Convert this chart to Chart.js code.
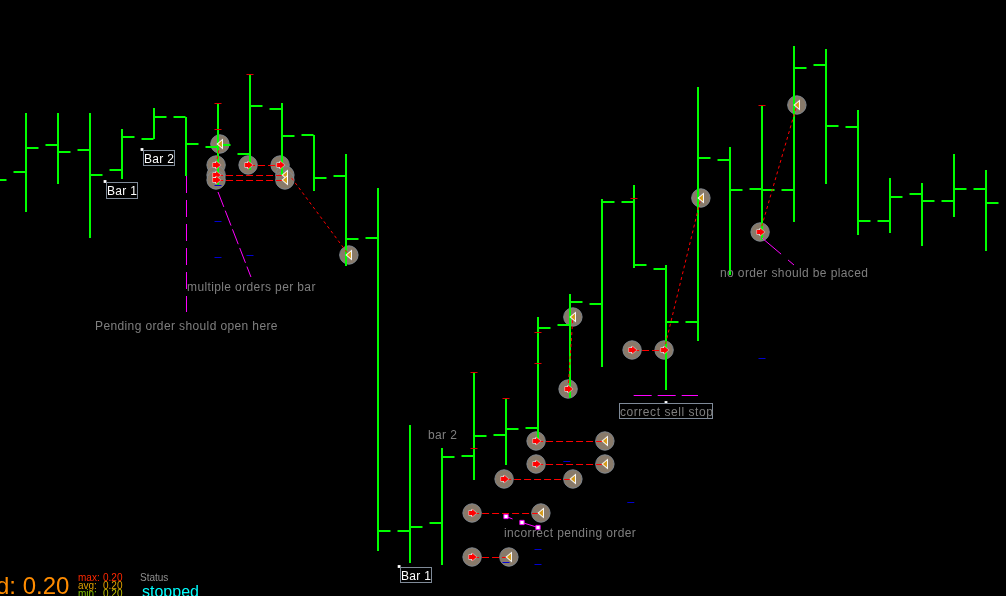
<!DOCTYPE html>
<html><head><meta charset="utf-8">
<style>html,body{margin:0;padding:0;background:#000;overflow:hidden}canvas{display:block}</style>
<script src="https://cdn.jsdelivr.net/npm/chart.js@4"></script>
</head><body><canvas id="c" width="1006" height="596"></canvas>
<script>
// OHLC values, one entry per bar
const barIndex=[0,1,2,3,4,5,6,7,8,9,10,11,12,13,14,15,16,17,18,19,20,21,22,23,24,25,26,27,28,29,30];
const highs=[483,483,483,467,488,479,493,522,493,461,442,408,171,148,224,198,279,302,397,411,331,509,449,491,550,547,486,418,413,442,426];
const lows=[384,412,358,417,457,420,411,426,421,405,330,45,33,31,116,131,156,198,229,328,206,255,321,356,374,412,361,363,350,379,345];
const opens=[424,451,446,426,457,479,449,442,487,461,420,358,65,73,140,161,168,271,292,394,327,274,436,407,406,531,469,375,402,395,407];
const closes=[448,444,421,459,479,452,451,490,460,418,357,65,69,139,160,167,268,294,394,331,274,438,406,406,528,470,375,399,395,407,393];
const priorBarIndex=-1, priorClose=416;
// Trades: entry and exit
const tradeFromX=[5.94,5.94,5.94,6.94,8.3,13.94,13.94,14.94,15.94,15.94,16.94,18.94,19.94,22.94];
const tradeFromY=[431,420.5,415.5,430.5,418,82.5,38.5,116.5,154.5,131.5,207,245.5,246,364];
const tradeToX=[6.06,8.09,8.09,7.94,10.09,16.09,15.09,17.09,18.09,18.09,17.09,19.94,21.09,24.09];
const tradeToY=[452,420.5,415.5,430.5,341,82.5,38.5,116.5,154.5,131.5,279,245.5,398,491];
const buyX=[5.94,5.94,5.94,6.94,7.94,13.94,13.94,14.94,15.94,15.94,16.94,18.94,19.94,22.94];
const buyY=[431,421,416,431,431,83,39,117,155,132,207,246,246,364];
const sellX=[6.06,8.09,8.09,10.09,15.09,16.09,17.09,18.09,18.09,17.09,21.09,24.09];
const sellY=[452,421,416,341,39,83,117,155,132,279,398,491];
// Small order ticks
const redTickX=[6,6,7,14,14,15,16,16,19,23];
const redTickY=[492.5,466.5,521.5,223.5,147.5,197.5,263.5,232.5,397.5,490.5];
const blueTickX=[6,6,6,7,16.9,18.9,16,16,15,23];
const blueTickY=[410.5,374.5,338.5,340.5,134.5,93.5,46.5,31.5,33.5,237.5];
// Pending-order handles and guide lines
const handleX=[15,15.5,16];
const handleY=[79.5,73.5,68.5];
const dotX=[2.47,3.625,11.66,20];
const dotY=[414.5,446.5,29.5,193.5];
const guideVX=[5.0156,5.0156], guideVY=[420,284];
const guideAX=[6.0,7.03], guideAY=[404,319];
const guideBX=[23,24], guideBY=[358,331];
const guideCX=[18.99,21], guideCY=[200.5,200.5];
const guideDX=[15,15.5], guideDY=[79.5,73.5];
const guideEX=[15.5,16], guideEY=[73.5,68.5];
// Texts
const plainTexts=["multiple orders per bar","Pending order should open here","no order should be placed","incorrect pending order","bar 2"];
const boxTexts=["Bar 1","Bar 2","Bar 1","correct sell stop"];

function marker(draw){const m=document.createElement('canvas');m.width=18;m.height=18;const g=m.getContext('2d');g.translate(9,9);draw(g);return m;}
function poly(g,pts){g.beginPath();pts.forEach((p,i)=>i?g.lineTo(p[0],p[1]):g.moveTo(p[0],p[1]));g.closePath();}
const arrow=[[-3.5,-2],[0,-2],[0,-4],[4.5,0],[0,4],[0,2],[-3.5,2]];
const buyMark=marker(g=>{g.strokeStyle='#fff';g.lineWidth=1;poly(g,arrow);g.stroke();g.fillStyle='#ff0000';poly(g,arrow);g.fill();});
const sellMark=marker(g=>{g.fillStyle='#fff';poly(g,[[-3.5,0],[3,-5.5],[3,5.5]]);g.fill();g.fillStyle='#d49a18';poly(g,[[-2,0],[2,-3.5],[2,3.5]]);g.fill();});

const toXY=(xs,ys)=>xs.map((x,i)=>({x,y:ys[i]}));
const line=(xs,ys,color,dash,width,order)=>({type:'scatter',showLine:true,data:toXY(xs,ys),borderColor:color,borderWidth:width,borderDash:dash,pointRadius:0,pointHoverRadius:0,order});
const ticks=(xs,ys,color,r,w,order)=>({type:'scatter',data:toXY(xs,ys),pointStyle:'line',rotation:0,pointRadius:r,pointHoverRadius:r,borderColor:color,backgroundColor:color,pointBorderColor:color,pointBorderWidth:w,order});
const TICK=0.203;
const GREEN='#00ff00';

const datasets=[
 {type:'scatter',data:toXY(buyX.concat(sellX),buyY.concat(sellY)),pointStyle:'circle',pointRadius:9.2,pointHoverRadius:9.2,pointBackgroundColor:'#887a6a',pointBorderColor:'#808890',pointBorderWidth:1,order:60},
 {type:'bar',data:barIndex.map((x,i)=>({x,y:[lows[i],highs[i]]})),barThickness:2,inflateAmount:0,backgroundColor:GREEN,borderWidth:0,order:50},
 ticks(barIndex.map(x=>x-TICK),opens,GREEN,6,2,49),
 ticks(barIndex.map(x=>x+TICK).concat(priorBarIndex+TICK),closes.concat(priorClose),GREEN,6,2,49),
 ticks(redTickX,redTickY,'#e00000',3.5,1,40),
 ticks(blueTickX,blueTickY,'#0000d0',3.5,1,40)
];
tradeFromX.forEach((x,i)=>{
 const diag=tradeFromY[i]!==tradeToY[i];
 datasets.push(line([x,tradeToX[i]],[tradeFromY[i],tradeToY[i]],'#ff0000',diag?[3,3]:[7,3],1,30));
});
datasets.push(line(guideVX,guideVY,'#ff00ff',[17,7],1,20));
datasets.push(line(guideAX,guideAY,'#ff00ff',[16,4],1,20));
datasets.push(line(guideBX,guideBY,'#ff00ff',[25,9],1,20));
datasets.push(line(guideCX,guideCY,'#ff00ff',[18,6],1,20));
datasets.push(line(guideDX,guideDY,'#ff00ff',[7,9],1,20));
datasets.push(line(guideEX,guideEY,'#ff00ff',[16,0],1,20));
datasets.push({type:'scatter',data:toXY(buyX,buyY),pointStyle:buyMark,pointRadius:9,order:10});
datasets.push({type:'scatter',data:toXY(sellX,sellY),pointStyle:sellMark,pointRadius:9,order:10});
datasets.push({type:'scatter',data:toXY(handleX,handleY),pointStyle:'rect',pointRadius:3,pointBackgroundColor:'#ffffff',pointBorderColor:'#ff00ff',pointBorderWidth:1,order:5});
datasets.push({type:'scatter',data:toXY(dotX,dotY),pointStyle:'rect',pointRadius:2,pointBackgroundColor:'#ffffff',pointBorderColor:'#ffffff',pointBorderWidth:0,order:5});

const textPlugin={id:'texts',afterDatasetsDraw(chart){
 const g=chart.ctx;g.save();g.textBaseline='alphabetic';g.textAlign='left';
 const T=(s,x,y,font,color,sp)=>{g.font=font;g.fillStyle=color;g.letterSpacing=(sp||0)+'px';g.fillText(s,x,y);};
 const F='"Liberation Sans",Arial,sans-serif';
 const grey='#7f7f7f';
 const plainAt=[[187,291],[95,330],[720,277],[504,537],[428,439]];
 plainTexts.forEach((s,i)=>T(s,plainAt[i][0],plainAt[i][1],'12px '+F,grey,0.38));
 const boxAt=[[106,182,32,17],[143,150,32,16],[400,567,32,16],[619,403,94,16]];
 const boxCol=['#fff','#fff','#fff',grey];
 boxTexts.forEach((s,i)=>{const b=boxAt[i];g.strokeStyle='#7f8a98';g.lineWidth=1;g.strokeRect(b[0]+.5,b[1]+.5,b[2]-1,b[3]-1);
  T(s,b[0]+1,b[1]+13,'12px '+F,boxCol[i],i===3?0.55:0.3);});
 T('d: 0.20',-4,594,'24px '+F,'#ff8c00',0);
 T('max:',78,581,'10px '+F,'#ff2800',0);T('0.20',103,581,'10px '+F,'#ff2800',0);
 T('avg:',78,589,'10px '+F,'#e0a000',0);T('0.20',103,589,'10px '+F,'#e0a000',0);
 T('min:',78,597,'10px '+F,'#80c000',0);T('0.20',103,597,'10px '+F,'#c0c000',0);
 T('Status',140,581,'10px '+F,'#909090',0);
 T('stopped',142,597,'16px '+F,'#00ffff',0);
 g.restore();
}};

new Chart(document.getElementById('c').getContext('2d'),{
 type:'bar',
 data:{datasets},
 options:{responsive:false,animation:false,events:[],
  layout:{padding:0,autoPadding:false},
  scales:{
   x:{type:'linear',display:false,offset:false,min:-0.8125,max:30.625,grid:{display:false}},
   y:{type:'linear',display:false,min:0,max:596,grid:{display:false}}
  },
  plugins:{legend:{display:false},tooltip:{enabled:false},title:{display:false}}
 },
 plugins:[textPlugin]
});
</script></body></html>
